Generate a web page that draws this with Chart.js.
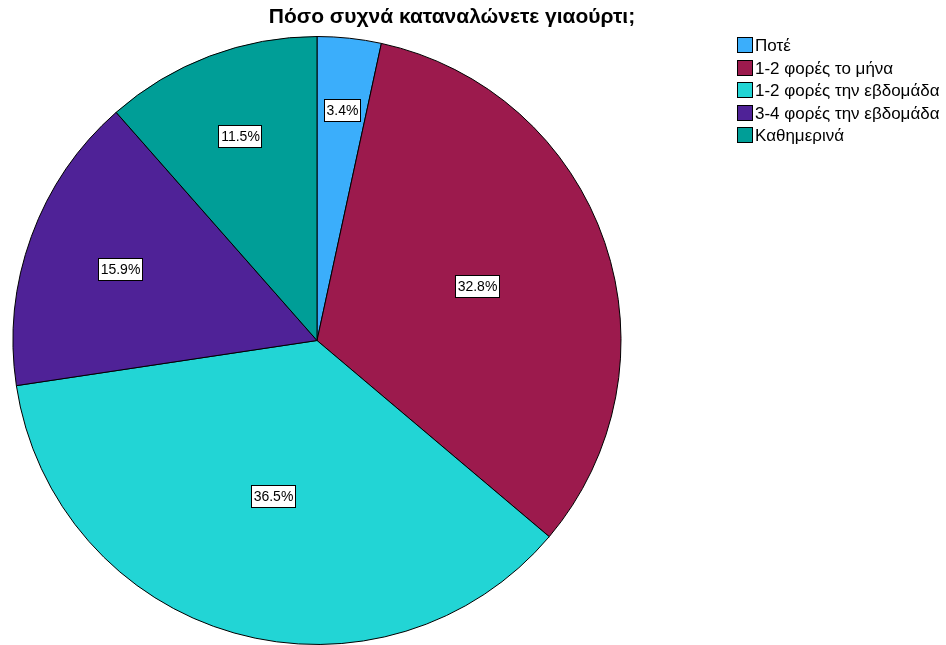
<!DOCTYPE html>
<html>
<head>
<meta charset="utf-8">
<script src="https://cdn.jsdelivr.net/npm/chart.js@4/dist/chart.umd.min.js"></script>
<style>
    body { margin: 0; background: #fff; font-family: "Liberation Sans", Arial, sans-serif; }
    #wrap { position: relative; width: 946px; height: 645px; overflow: hidden; }
    #title { position: absolute; left: 0; top: 4px; width: 904px; text-align: center; font-weight: bold; font-size: 21px; color: #000; }
    #legend { position: absolute; left: 737px; top: 35px; font-size: 17px; color: #000; }
    #legend div { height: 22.5px; line-height: 22px; white-space: nowrap; }
    #legend span.box { display: inline-block; width: 14px; height: 14px; border: 1px solid #000; vertical-align: -2px; margin-right: 2px; }
</style>
</head>
<body>
<div id="wrap">
    <div id="title">Πόσο συχνά καταναλώνετε γιαούρτι;</div>
    <div id="legend"></div>
    <canvas id="pieChart" width="946" height="645"></canvas>
</div>
<script>
const categories = ['Ποτέ', '1-2 φορές το μήνα', '1-2 φορές την εβδομάδα', '3-4 φορές την εβδομάδα', 'Καθημερινά'];
const percents = [3.4, 32.8, 36.5, 15.9, 11.5];
const colors = ['#3BAEFB', '#9C1A4D', '#22D5D5', '#4F2297', '#009E97'];

// legend on the right, built from the same arrays
const legendEl = document.getElementById('legend');
categories.forEach((c, i) => {
    const row = document.createElement('div');
    row.innerHTML = '<span class="box" style="background:' + colors[i] + '"></span>' + c;
    legendEl.appendChild(row);
});

// boxed percentage labels near each slice's centroid, pushed outward for thin slices
const sliceLabels = {
    id: 'sliceLabels',
    afterDatasetsDraw(chart) {
        const ctx = chart.ctx;
        const meta = chart.getDatasetMeta(0);
        ctx.save();
        ctx.font = '14px "Liberation Sans", Arial, sans-serif';
        ctx.textAlign = 'center';
        ctx.textBaseline = 'middle';
        meta.data.forEach((arc, i) => {
            const p = arc.getProps(['x', 'y', 'startAngle', 'endAngle', 'outerRadius'], true);
            const half = (p.endAngle - p.startAngle) / 2;
            const mid = p.startAngle + half;
            let frac = 2 * Math.sin(half) / (3 * half);
            frac += 0.11 * Math.max(0, 1 - half / 0.9);
            const r = p.outerRadius * frac;
            const lx = Math.round(p.x + Math.cos(mid) * r);
            const ly = Math.round(p.y + Math.sin(mid) * r);
            const txt = percents[i].toFixed(1) + '%';
            const w = Math.round(ctx.measureText(txt).width + 4);
            const h = 22;
            const bx = lx - Math.round(w / 2) + 0.5;
            const by = ly - h / 2 + 0.5;
            ctx.fillStyle = '#fff';
            ctx.fillRect(bx, by, w, h);
            ctx.strokeStyle = '#000';
            ctx.lineWidth = 1;
            ctx.strokeRect(bx, by, w, h);
            ctx.fillStyle = '#000';
            ctx.fillText(txt, lx + 0.5, ly + 1.5);
        });
        ctx.restore();
    }
};

new Chart(document.getElementById('pieChart').getContext('2d'), {
    type: 'pie',
    data: {
        labels: categories,
        datasets: [{
            data: percents,
            backgroundColor: colors,
            borderColor: '#000',
            borderWidth: 1
        }]
    },
    options: {
        responsive: false,
        animation: false,
        layout: { padding: { left: 12, right: 324, top: 36, bottom: 0 } },
        plugins: {
            legend: { display: false },
            title: { display: false },
            tooltip: { enabled: false }
        }
    },
    plugins: [sliceLabels]
});
</script>
</body>
</html>
